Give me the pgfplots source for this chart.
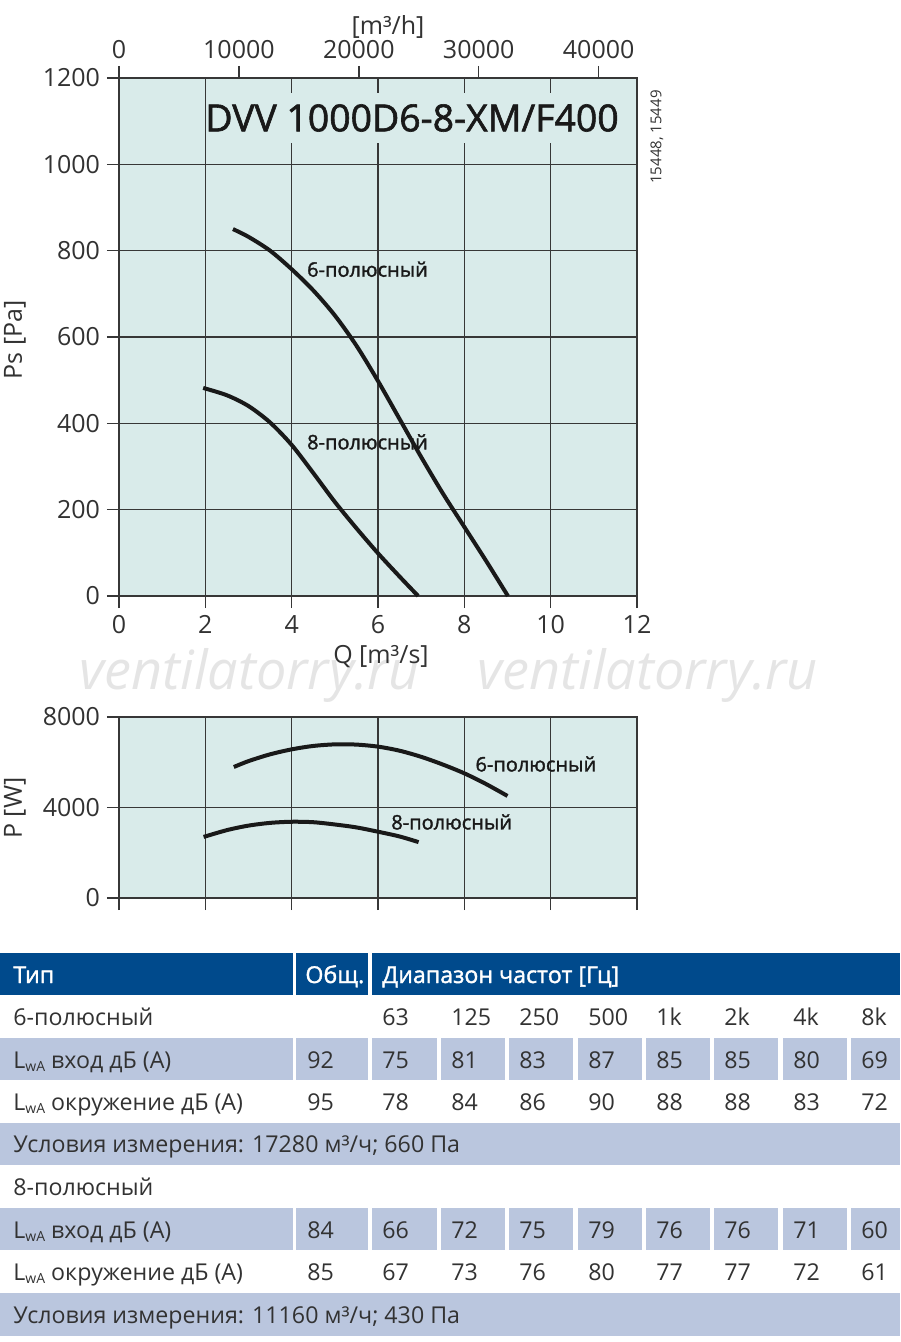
\documentclass[border=0pt]{standalone}
\usepackage{fontspec}
\setmainfont{Open Sans}
\newfontfamily\semib{Open Sans}[FakeBold=1.6]
\usepackage{pgfplots}
\pgfplotsset{compat=1.18}
\definecolor{bgc}{RGB}{217,235,234}
\definecolor{hdr}{RGB}{0,74,140}
\definecolor{shd}{RGB}{186,198,222}
\definecolor{txt}{RGB}{50,50,50}
\definecolor{grd}{RGB}{55,55,55}
\tikzset{
  clab/.style={anchor=west, inner sep=0pt, font=\semib\fontsize{10}{12}\selectfont, text=black!90},
}
\pgfplotsset{
  common/.style={
    scale only axis, width=259pt,
    xmin=0, xmax=12,
    axis background/.style={fill=bgc},
    grid=major,
    major grid style={draw=grd, line width=0.7pt},
    axis line style={draw=grd, line width=0.7pt},
    every tick/.style={draw=grd, line width=0.7pt},
    tick align=outside, major tick length=6pt,
    xtick pos=left, ytick pos=left,
    tick label style={font=\fontsize{12.5}{14}\selectfont, text=txt},
    /pgf/number format/assume math mode=true,
    /pgf/number format/1000 sep={},
    scaled ticks=false,
    clip=false,
  },
  curve/.style={draw=black!90, line width=2pt, smooth},
}
\begin{document}
\begin{tikzpicture}
\path[use as bounding box] (0,0) rectangle (450pt,-671pt);
% ---------- top plot ----------
\begin{axis}[common,
  at={(59.5pt,-298pt)}, anchor=south west, height=259pt,
  ymin=0, ymax=1200,
  xtick={0,2,...,12}, ytick={0,200,...,1200},
]
\addplot[curve] coordinates {
 (2.64,850) (3.0,832) (3.5,800) (4.0,757) (4.5,708) (5.0,650) (5.5,580) (6.0,498) (6.5,410) (7.0,322) (7.5,238) (8.0,160) (8.5,82) (9.01,0)};
\addplot[curve] coordinates {
 (1.95,482) (2.5,465) (3.0,440) (3.5,402) (4.0,350) (4.5,285) (5.0,218) (5.5,157) (6.0,99) (6.5,45) (6.93,0)};
\node[clab] at (axis cs:4.35,757) {6-полюсный};
\node[clab] at (axis cs:4.35,357) {8-полюсный};
\end{axis}
\begin{axis}[
  at={(59.5pt,-298pt)}, anchor=south west, scale only axis, width=259pt, height=259pt,
  xmin=0, xmax=43200, ymin=0, ymax=1,
  axis x line*=top, axis y line=none,
  xtick={0,10000,20000,30000,40000},
  axis line style={draw=grd, line width=0.7pt},
  every tick/.style={draw=grd, line width=0.7pt},
  tick align=outside, major tick length=6pt,
  tick label style={font=\fontsize{12.5}{14}\selectfont, text=txt},
  /pgf/number format/assume math mode=true,
  /pgf/number format/1000 sep={},
  scaled ticks=false,
]
\addplot[draw=none] coordinates {(0,0)};
\end{axis}
% ---------- bottom plot ----------
\begin{axis}[common,
  at={(59.5pt,-449pt)}, anchor=south west, height=90.5pt,
  ymin=0, ymax=8000,
  xtick={0,2,...,12}, xticklabels={}, ytick={0,4000,8000},
]
\addplot[curve] coordinates {
 (2.66,5790) (3.0,6050) (3.5,6350) (4.0,6570) (4.5,6720) (5.0,6790) (5.5,6780) (6.0,6690) (6.5,6510) (7.0,6240) (7.5,5900) (8.0,5510) (8.5,5040) (9.0,4510)};
\addplot[curve] coordinates {
 (1.96,2700) (2.5,3000) (3.0,3200) (3.5,3320) (4.0,3370) (4.5,3350) (5.0,3250) (5.5,3120) (6.0,2930) (6.5,2720) (6.94,2470)};
\node[clab] at (axis cs:8.25,5923) {6-полюсный};
\node[clab] at (axis cs:6.3,3360) {8-полюсный};
\end{axis}
% ---------- decorations ----------
\begin{scope}[x=0.5pt,y=-0.5pt]
 \fill[bgc] (208,93) rectangle (626,143);
 \node[inner sep=0pt, font=\semib\fontsize{18.7}{22}\selectfont, text=black!90] at (412,118) {DVV 1000D6-8-XM/F400};
 \node[rotate=90, inner sep=0pt, font=\fontsize{7.5}{9}\selectfont, text=txt] at (657,137) {15448, 15449};
 \node[rotate=90, inner sep=0pt, font=\fontsize{12.5}{14}\selectfont, text=txt] at (15,340) {Ps [Pa]};
 \node[rotate=90, inner sep=0pt, font=\fontsize{12.5}{14}\selectfont, text=txt] at (15,808) {P [W]};
 \node[inner sep=0pt, font=\itshape\fontsize{27}{30}\selectfont, text=black!10] at (250,675) {ventilatorry.ru};
 \node[inner sep=0pt, font=\itshape\fontsize{27}{30}\selectfont, text=black!10] at (648,675) {ventilatorry.ru};
 \node[inner sep=0pt, font=\fontsize{12.5}{14}\selectfont, text=txt] at (381,657) {Q [m³/s]};
 \node[inner sep=0pt, font=\fontsize{12.5}{14}\selectfont, text=txt] at (388,27) {[m³/h]};
 % table backgrounds
 \fill[hdr] (0,953) rectangle (293,995);
 \fill[hdr] (296,953) rectangle (368,995);
 \fill[hdr] (372,953) rectangle (900,995);
 \foreach \yy in {1038,1208}{
   \foreach \a/\b in {0/293,296/368,372/437,441/505,509/573,578/642,646/710,714/778,783/847,851/900}{
     \fill[shd] (\a,\yy) rectangle (\b,\yy+42);
   }
 }
 \fill[shd] (0,1123) rectangle (900,1165);
 \fill[shd] (0,1293) rectangle (900,1336);
 % header text
 \begin{scope}[every node/.style={anchor=base west, inner sep=0pt, text=white, font=\semib\fontsize{11.6}{13}\selectfont}]
   \node at (13,983) {Тип};
   \node at (305,983) {Общ.};
   \node at (382,983) {Диапазон частот [Гц]};
 \end{scope}
 \begin{scope}[every node/.style={anchor=base west, inner sep=0pt, text=txt, font=\fontsize{11.6}{13}\selectfont}]
   \node at (13,1025) {6-полюсный};
   \foreach \x/\v in {382/63,451/125,519/250,588/500,656/1k,724/2k,793/4k,861/8k}{\node at (\x,1025) {\v};}
   \node at (13,1068) {L\raisebox{-0.25ex}{\fontsize{7}{8}\selectfont wA} вход дБ (А)};
   \foreach \x/\v in {307/92,382/75,451/81,519/83,588/87,656/85,724/85,793/80,861/69}{\node at (\x,1068) {\v};}
   \node at (13,1110) {L\raisebox{-0.25ex}{\fontsize{7}{8}\selectfont wA} окружение дБ (А)};
   \foreach \x/\v in {307/95,382/78,451/84,519/86,588/90,656/88,724/88,793/83,861/72}{\node at (\x,1110) {\v};}
   \node at (13,1152) {Условия измерения: 17280 м³/ч; 660 Па};
   \node at (13,1195) {8-полюсный};
   \node at (13,1238) {L\raisebox{-0.25ex}{\fontsize{7}{8}\selectfont wA} вход дБ (А)};
   \foreach \x/\v in {307/84,382/66,451/72,519/75,588/79,656/76,724/76,793/71,861/60}{\node at (\x,1238) {\v};}
   \node at (13,1280) {L\raisebox{-0.25ex}{\fontsize{7}{8}\selectfont wA} окружение дБ (А)};
   \foreach \x/\v in {307/85,382/67,451/73,519/76,588/80,656/77,724/77,793/72,861/61}{\node at (\x,1280) {\v};}
   \node at (13,1323) {Условия измерения: 11160 м³/ч; 430 Па};
 \end{scope}
\end{scope}
\end{tikzpicture}
\end{document}
